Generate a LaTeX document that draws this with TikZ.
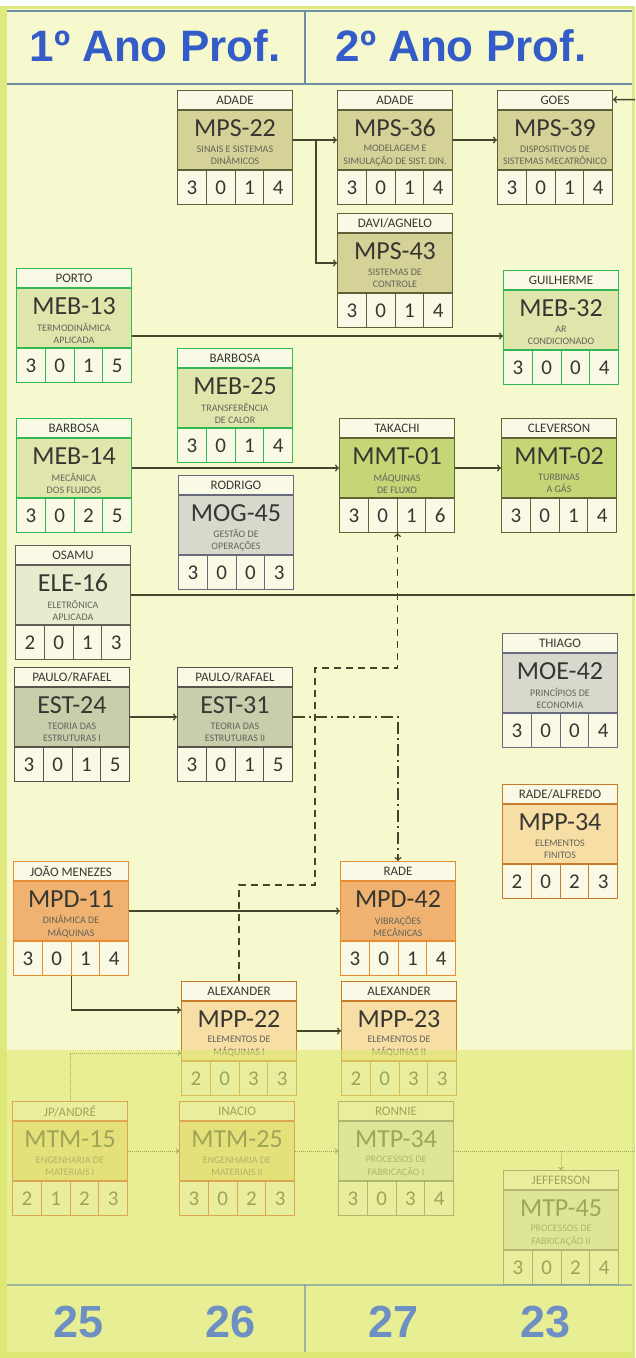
\documentclass[tikz,border=0pt]{standalone}
\usepackage{fontspec}
\setmainfont{Carlito}
\newfontfamily\headfont{Liberation Sans}
\usepackage{xcolor}
\usepackage{tikz}
\usetikzlibrary{positioning}

\definecolor{outer}{RGB}{224,233,125}
\definecolor{paper}{RGB}{246,248,206}
\definecolor{veil}{RGB}{222,232,112}
\definecolor{rulec}{RGB}{112,142,162}
\definecolor{titlec}{RGB}{52,92,200}
\definecolor{sumc}{RGB}{80,120,205}
\definecolor{cream}{RGB}{249,249,230}
\definecolor{ink}{RGB}{55,55,50}
\definecolor{faint}{RGB}{100,100,90}
\definecolor{arrowc}{RGB}{70,70,45}
\definecolor{mpsline}{RGB}{95,95,60}
\definecolor{mpsfill}{RGB}{212,210,150}
\definecolor{mebline}{RGB}{50,185,85}
\definecolor{mebfill}{RGB}{224,229,172}
\definecolor{mmtline}{RGB}{95,100,55}
\definecolor{mmtfill}{RGB}{196,214,118}
\definecolor{mogline}{RGB}{105,105,125}
\definecolor{mogfill}{RGB}{216,216,204}
\definecolor{eleline}{RGB}{95,95,85}
\definecolor{elefill}{RGB}{232,235,205}
\definecolor{estline}{RGB}{85,85,75}
\definecolor{estfill}{RGB}{202,205,172}
\definecolor{mpdline}{RGB}{232,140,50}
\definecolor{mpdfill}{RGB}{240,178,112}
\definecolor{mppline}{RGB}{200,122,45}
\definecolor{mppfill}{RGB}{246,222,165}
\definecolor{mtmline}{RGB}{220,60,40}
\definecolor{mtmfill}{RGB}{242,214,140}
\definecolor{mtpline}{RGB}{105,105,115}
\definecolor{mtpfill}{RGB}{222,226,212}

% id, top-left corner, colour group, teacher, code, title, credits
\newcommand{\coursebox}[7]{%
  \node[profbox, draw=#3line] (#1-p) at (#2) {#4};
  \node[mainbox, draw=#3line, fill=#3fill, below=0pt of #1-p] (#1) {};
  \node[codetext] (#1-c) at ([yshift=-18pt]#1.north) {#5};
  \node[desctext] (#1-d) at ([yshift=-45.5pt]#1.north) {#6};
  \foreach \v [count=\i] in {#7}
    \node[cellbox, draw=#3line] (#1-n\i) at ([xshift={(\i-1)*28.75pt}]#1.south west) {\v};
}

\begin{document}
\begin{tikzpicture}[
    x=1pt, y=-1pt,
    profbox/.style={rectangle, anchor=north west, minimum width=115pt, minimum height=19pt, inner sep=0pt, line width=1pt, fill=cream, text=ink, font=\fontsize{13}{13}\selectfont},
    mainbox/.style={rectangle, minimum width=115pt, minimum height=59pt, inner sep=0pt, line width=1pt},
    cellbox/.style={rectangle, anchor=north west, minimum width=28.75pt, minimum height=34pt, inner sep=0pt, line width=1pt, fill=cream, text=ink, font=\fontsize{21}{21}\selectfont},
    codetext/.style={inner sep=0pt, text=ink, font=\fontsize{26}{26}\selectfont},
    desctext/.style={inner sep=0pt, align=center, text=faint, font=\fontsize{10}{12.5}\selectfont},
    headtext/.style={inner sep=0pt, text=titlec, font=\headfont\bfseries\fontsize{44}{44}\selectfont},
    foottext/.style={inner sep=0pt, text=sumc, opacity=0.8, font=\headfont\bfseries\fontsize{45}{45}\selectfont},
    rulel/.style={draw=rulec, line width=1.5pt},
    flow/.style={->, draw=arrowc, line width=1.5pt},
    depend/.style={->, draw=arrowc, line width=1.5pt, dash pattern=on 7pt off 5pt},
    linkdd/.style={->, draw=arrowc, line width=1.5pt, dash pattern=on 12pt off 4pt on 2pt off 4pt},
    weak/.style={->, draw=arrowc, line width=1pt, densely dotted}
]
\useasboundingbox (0,0) rectangle (635,1358);
\fill[outer] (0,0) rectangle (635,1358);
\fill[white] (0,0) rectangle (635,6);
\fill[paper] (7,9) rectangle (632,1352);

\draw[rulel] (7,11) -- (632,11);
\draw[rulel] (7,84) -- (632,84);
\draw[rulel] (305,11) -- (305,84);
\node[headtext] (ano1) at (155,46) {1º Ano Prof.};
\node[headtext] (ano2) at (461,46) {2º Ano Prof.};

\coursebox{mps22}{177,90}{mps}{ADADE}{MPS-22}{SINAIS E SISTEMAS\\DINÂMICOS}{3,0,1,4}
\coursebox{mps36}{337,90}{mps}{ADADE}{MPS-36}{MODELAGEM E\\SIMULAÇÃO DE SIST. DIN.}{3,0,1,4}
\coursebox{mps39}{497,90}{mps}{GOES}{MPS-39}{DISPOSITIVOS DE\\SISTEMAS MECATRÔNICO}{3,0,1,4}
\coursebox{mps43}{337,213}{mps}{DAVI/AGNELO}{MPS-43}{SISTEMAS DE\\CONTROLE}{3,0,1,4}
\coursebox{meb13}{16,268}{meb}{PORTO}{MEB-13}{TERMODINÂMICA\\APLICADA}{3,0,1,5}
\coursebox{meb32}{503,270}{meb}{GUILHERME}{MEB-32}{AR\\CONDICIONADO}{3,0,0,4}
\coursebox{meb25}{177,348}{meb}{BARBOSA}{MEB-25}{TRANSFERÊNCIA\\DE CALOR}{3,0,1,4}
\coursebox{meb14}{16,418}{meb}{BARBOSA}{MEB-14}{MECÂNICA\\DOS FLUIDOS}{3,0,2,5}
\coursebox{mog45}{178,475}{mog}{RODRIGO}{MOG-45}{GESTÃO DE\\OPERAÇÕES}{3,0,0,3}
\coursebox{mmt01}{339,418}{mmt}{TAKACHI}{MMT-01}{MÁQUINAS\\DE FLUXO}{3,0,1,6}
\coursebox{mmt02}{501,418}{mmt}{CLEVERSON}{MMT-02}{TURBINAS\\A GÁS}{3,0,1,4}
\coursebox{ele16}{15,545}{ele}{OSAMU}{ELE-16}{ELETRÔNICA\\APLICADA}{2,0,1,3}
\coursebox{moe42}{502,633}{mog}{THIAGO}{MOE-42}{PRINCÍPIOS DE\\ECONOMIA}{3,0,0,4}
\coursebox{est24}{14,667}{est}{PAULO/RAFAEL}{EST-24}{TEORIA DAS\\ESTRUTURAS I}{3,0,1,5}
\coursebox{est31}{177,667}{est}{PAULO/RAFAEL}{EST-31}{TEORIA DAS\\ESTRUTURAS II}{3,0,1,5}
\coursebox{mpp34}{502,784}{mpp}{RADE/ALFREDO}{MPP-34}{ELEMENTOS\\FINITOS}{2,0,2,3}
\coursebox{mpd11}{13,861}{mpd}{JOÃO MENEZES}{MPD-11}{DINÂMICA DE\\MÁQUINAS}{3,0,1,4}
\coursebox{mpd42}{340,861}{mpd}{RADE}{MPD-42}{VIBRAÇÕES\\MECÂNICAS}{3,0,1,4}
\coursebox{mpp22}{181,981}{mpp}{ALEXANDER}{MPP-22}{ELEMENTOS DE\\MÁQUINAS I}{2,0,3,3}
\coursebox{mpp23}{341,981}{mpp}{ALEXANDER}{MPP-23}{ELEMENTOS DE\\MÁQUINAS II}{2,0,3,3}
\coursebox{mtm15}{12,1101}{mtm}{JP/ANDRÉ}{MTM-15}{ENGENHARIA DE\\MATERIAIS I}{2,1,2,3}
\coursebox{mtm25}{179,1101}{mtm}{INACIO}{MTM-25}{ENGENHARIA DE\\MATERIAIS II}{3,0,2,3}
\coursebox{mtp34}{338,1101}{mtp}{RONNIE}{MTP-34}{PROCESSOS DE\\FABRICAÇÃO I}{3,0,3,4}
\coursebox{mtp45}{503,1170}{mtp}{JEFFERSON}{MTP-45}{PROCESSOS DE\\FABRICAÇÃO II}{3,0,2,4}

\coordinate (goesin) at (635,99.5);
\coordinate (edge) at (635,0);
\coordinate (dash1) at (315,885);
\coordinate (dash2) at (315,668);

\draw[flow] (mps22) -- (mps36);
\draw[flow] ([xshift=23pt]mps22.east) |- (mps43);
\draw[flow] (mps36) -- (mps39);
\draw[flow] (goesin) -- (mps39-p);
\draw[flow] ([yshift=-18pt]meb13.east) -- ([yshift=-18pt]meb13.east -| meb32.west);
\draw[flow] (meb14) -- (mmt01);
\draw[flow] (mmt01) -- (mmt02);
\draw[flow, -] (ele16) -- (ele16 -| edge);
\draw[flow] (est24) -- (est31);
\draw[linkdd] (est31) -| (mpd42-p);
\draw[depend] (mpp22-p) |- (dash1) -- (dash2) -| (mmt01-n2.south east);
\draw[flow] (mpd11) -- (mpd42);
\draw[flow] (mpd11-n2.south east) |- ([yshift=21pt]mpp22.west);
\draw[flow] (mpp22) -- (mpp23);
\draw[weak] (mtm15-p) |- ([yshift=-22pt]mpp22.west);
\draw[weak] (mtm15) -- (mtm25);
\draw[weak] (mtm25) -- (mtp34);
\draw[weak, -] (mtp34) -- (mtp34 -| edge);
\draw[weak] (mtp34 -| mtp45-p) -- (mtp45-p);

\fill[veil, opacity=0.62] (0,1050) rectangle (635,1358);

\draw[rulel, draw opacity=0.6] (7,1285) -- (632,1285);
\draw[rulel, draw opacity=0.6] (305,1285) -- (305,1352);
\node[foottext] (sum1) at (79,1322) {25};
\node[foottext] (sum2) at (231,1322) {26};
\node[foottext] (sum3) at (394,1322) {27};
\node[foottext] (sum4) at (546,1322) {23};
\end{tikzpicture}
\end{document}
